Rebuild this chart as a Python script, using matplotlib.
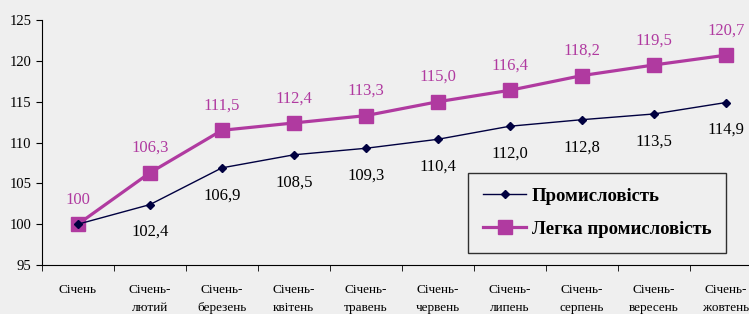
import numpy as np
import matplotlib.pyplot as plt

plt.rcParams['font.family'] = ['Liberation Serif', 'DejaVu Serif']

# Categories and values
categories = ['Січень', 'Січень-\nлютий', 'Січень-\nберезень', 'Січень-\nквітень',
              'Січень-\nтравень', 'Січень-\nчервень', 'Січень-\nлипень',
              'Січень-\nсерпень', 'Січень-\nвересень', 'Січень-\nжовтень']
industry = [100, 102.4, 106.9, 108.5, 109.3, 110.4, 112.0, 112.8, 113.5, 114.9]
light = [100, 106.3, 111.5, 112.4, 113.3, 115.0, 116.4, 118.2, 119.5, 120.7]
light_labels = ['100', '106,3', '111,5', '112,4', '113,3', '115,0', '116,4',
                '118,2', '119,5', '120,7']
industry_labels = ['', '102,4', '106,9', '108,5', '109,3', '110,4', '112,0',
                   '112,8', '113,5', '114,9']

bg = '#efefef'
pink = '#b03aa0'
navy = '#000040'

fig = plt.figure(figsize=(7.49, 3.14), dpi=100, facecolor=bg)
ax = fig.add_axes([0.056, 0.156, 0.961, 0.78], facecolor=bg)

x = np.arange(len(categories))
ax.plot(x, industry, color=navy, lw=1, marker='D', ms=4, label='Промисловість', zorder=3)
ax.plot(x, light, color=pink, lw=2.3, marker='s', ms=10, label='Легка промисловість', zorder=2)

for i in range(len(x)):
    ax.annotate(light_labels[i], (x[i], light[i]), xytext=(0, 12), textcoords='offset points',
                ha='center', va='bottom', fontsize=12, color=pink)
    if industry_labels[i]:
        ax.annotate(industry_labels[i], (x[i], industry[i]), xytext=(0, -14),
                    textcoords='offset points', ha='center', va='top', fontsize=12, color='black')

ax.set_xlim(-0.5, 9.5)
ax.set_ylim(95, 125)
ax.set_yticks(range(95, 126, 5))
ax.set_xticks(x)
ax.set_xticklabels(categories, fontsize=9.5, linespacing=1.6)
ax.set_xticks(np.arange(-0.5, 10, 1), minor=True)
ax.tick_params(axis='x', which='major', length=0, pad=14)
ax.tick_params(axis='x', which='minor', length=4, direction='out')
ax.tick_params(axis='y', labelsize=10.5, length=4)
for s in ['top', 'right']:
    ax.spines[s].set_visible(False)

leg = ax.legend(loc='lower left', bbox_to_anchor=(0.592, 0.049), borderaxespad=0,
                prop={'weight': 'bold', 'size': 13.5}, frameon=True, fancybox=False,
                edgecolor='black', facecolor=bg, handlelength=2.3, labelspacing=0.85,
                borderpad=0.8, handletextpad=0.3)
leg.get_frame().set_linewidth(1)

fig.savefig('out.png', dpi=100, facecolor=bg)
